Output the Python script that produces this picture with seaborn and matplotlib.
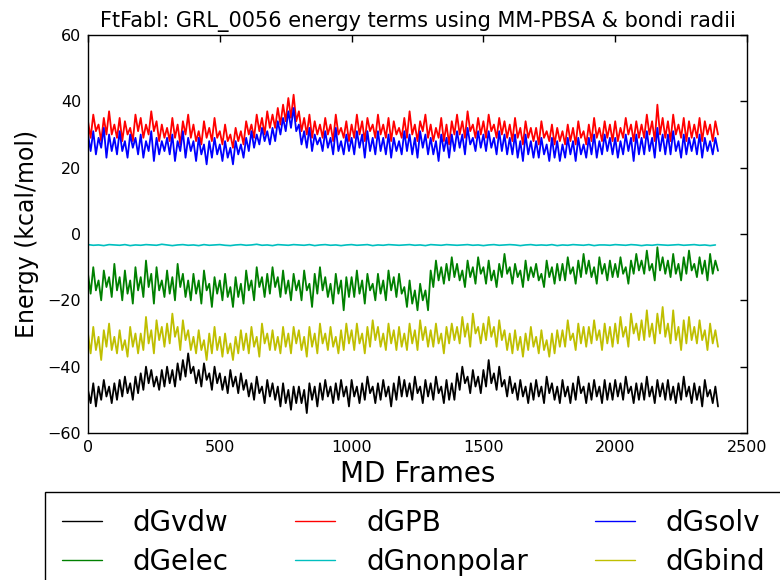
import numpy as np
import pandas as pd
import seaborn as sns
import matplotlib.pyplot as plt

# MD frame index, one sample read every 10 frames
frames = np.arange(0, 2400, 10)
# the nonpolar term is nearly flat, read every 20 frames
frames_np = np.arange(0, 2400, 20)

dGvdw = [-47, -51, -45, -52, -46, -50, -44, -49, -46, -51,
         -45, -50, -44, -49, -43, -48, -45, -50, -43, -48,
         -42, -47, -40, -45, -41, -46, -43, -47, -41, -46,
         -40, -45, -41, -46, -39, -44, -38, -43, -36, -42,
         -40, -45, -41, -46, -39, -44, -42, -47, -40, -45,
         -42, -47, -43, -48, -41, -46, -43, -48, -42, -47,
         -44, -49, -45, -50, -43, -48, -46, -51, -44, -49,
         -45, -50, -46, -52, -45, -51, -47, -53, -46, -51,
         -46, -51, -47, -54, -45, -50, -46, -52, -45, -50,
         -44, -49, -46, -51, -45, -50, -44, -49, -46, -52,
         -44, -49, -46, -51, -45, -50, -43, -48, -46, -51,
         -45, -50, -44, -49, -46, -52, -45, -50, -43, -49,
         -44, -49, -45, -50, -43, -48, -46, -51, -44, -49,
         -45, -50, -43, -48, -46, -51, -44, -50, -45, -50,
         -42, -47, -40, -45, -43, -48, -41, -46, -43, -48,
         -41, -46, -38, -45, -42, -47, -40, -46, -44, -49,
         -43, -48, -45, -50, -44, -49, -46, -51, -45, -50,
         -44, -49, -46, -51, -43, -48, -45, -50, -46, -51,
         -44, -49, -46, -51, -45, -50, -43, -48, -46, -51,
         -45, -50, -44, -49, -46, -51, -44, -50, -45, -50,
         -44, -49, -45, -50, -43, -48, -46, -51, -45, -50,
         -45, -50, -43, -49, -46, -51, -44, -49, -45, -50,
         -44, -50, -46, -51, -45, -50, -43, -49, -46, -51,
         -45, -50, -46, -52, -44, -49, -47, -51, -46, -52]

dGelec = [-12, -18, -10, -17, -14, -20, -11, -16, -13, -19,
          -9, -17, -13, -20, -11, -18, -14, -21, -10, -17,
          -13, -19, -8, -16, -12, -21, -10, -17, -14, -19,
          -11, -18, -13, -20, -9, -16, -12, -19, -14, -20,
          -12, -18, -14, -21, -11, -17, -15, -22, -13, -18,
          -14, -20, -12, -19, -16, -22, -13, -19, -15, -21,
          -11, -17, -14, -20, -10, -16, -13, -19, -12, -18,
          -10, -16, -13, -19, -11, -18, -14, -20, -12, -17,
          -14, -20, -11, -17, -15, -22, -12, -18, -10, -17,
          -13, -19, -15, -21, -12, -18, -14, -23, -13, -19,
          -13, -19, -11, -18, -14, -21, -12, -17, -15, -20,
          -12, -18, -14, -20, -11, -17, -13, -19, -12, -18,
          -16, -22, -14, -21, -17, -23, -15, -20, -17, -23,
          -11, -16, -8, -14, -10, -15, -9, -14, -7, -13,
          -9, -14, -11, -16, -8, -13, -10, -15, -7, -12,
          -10, -15, -8, -14, -11, -16, -9, -13, -6, -12,
          -10, -15, -9, -13, -11, -16, -8, -14, -10, -13,
          -9, -14, -12, -16, -8, -13, -10, -15, -9, -14,
          -9, -14, -7, -12, -10, -15, -8, -13, -6, -12,
          -8, -13, -10, -15, -7, -12, -9, -14, -8, -13,
          -9, -13, -7, -12, -10, -15, -8, -12, -6, -11,
          -8, -12, -5, -11, -9, -14, -4, -11, -7, -12,
          -8, -13, -6, -12, -9, -14, -7, -12, -5, -11,
          -9, -13, -7, -12, -8, -14, -6, -12, -8, -11]

dGPB = [34, 29, 36, 31, 33, 28, 35, 30, 37, 30,
        33, 29, 35, 28, 34, 30, 32, 28, 36, 31,
        35, 29, 33, 30, 37, 31, 34, 28, 33, 29,
        32, 28, 35, 29, 33, 27, 34, 30, 36, 29,
        33, 28, 31, 27, 34, 29, 32, 28, 35, 29,
        31, 27, 33, 28, 30, 26, 32, 28, 31, 27,
        34, 30, 33, 29, 36, 31, 35, 30, 37, 32,
        36, 32, 38, 33, 39, 34, 41, 35, 42, 34,
        37, 31, 35, 30, 36, 29, 34, 30, 33, 29,
        35, 30, 33, 28, 36, 30, 32, 29, 34, 28,
        33, 29, 36, 30, 34, 28, 35, 31, 33, 29,
        36, 30, 33, 29, 35, 28, 34, 30, 32, 29,
        35, 29, 37, 30, 33, 28, 34, 31, 36, 29,
        33, 28, 32, 29, 35, 28, 33, 27, 34, 30,
        36, 30, 34, 29, 37, 31, 33, 29, 35, 30,
        34, 29, 36, 31, 33, 29, 35, 30, 34, 29,
        33, 28, 35, 29, 32, 27, 34, 29, 32, 28,
        32, 27, 34, 29, 31, 28, 33, 27, 32, 28,
        31, 27, 33, 28, 32, 27, 34, 29, 31, 27,
        33, 28, 35, 29, 32, 28, 34, 29, 33, 28,
        34, 28, 32, 29, 35, 30, 33, 28, 34, 29,
        33, 29, 36, 30, 34, 28, 39, 30, 35, 29,
        34, 28, 36, 30, 33, 29, 35, 28, 34, 29,
        33, 29, 35, 28, 34, 30, 33, 28, 34, 30]

dGnonpolar = [-3.2, -3.4, -3.3, -3.5, -3.2, -3.3, -3.4, -3.2, -3.5, -3.3,
              -3.4, -3.2, -3.3, -3.4, -3.1, -3.3, -3.5, -3.3, -3.2, -3.4,
              -3.3, -3.5, -3.2, -3.4, -3.3, -3.2, -3.4, -3.5, -3.3, -3.2,
              -3.4, -3.3, -3.1, -3.4, -3.3, -3.5, -3.2, -3.3, -3.4, -3.2,
              -3.3, -3.4, -3.2, -3.5, -3.3, -3.2, -3.4, -3.3, -3.5, -3.3,
              -3.2, -3.4, -3.3, -3.2, -3.5, -3.3, -3.4, -3.2, -3.3, -3.4,
              -3.3, -3.2, -3.4, -3.3, -3.5, -3.2, -3.3, -3.4, -3.2, -3.3,
              -3.4, -3.3, -3.2, -3.4, -3.3, -3.5, -3.3, -3.2, -3.4, -3.3,
              -3.2, -3.3, -3.5, -3.3, -3.2, -3.4, -3.3, -3.4, -3.2, -3.5,
              -3.3, -3.4, -3.2, -3.3, -3.4, -3.2, -3.5, -3.3, -3.3, -3.4,
              -3.2, -3.3, -3.4, -3.2, -3.3, -3.5, -3.3, -3.4, -3.2, -3.3,
              -3.4, -3.3, -3.2, -3.4, -3.3, -3.2, -3.4, -3.3, -3.5, -3.3]

dGsolv = [30, 25, 31, 24, 29, 26, 32, 23, 30, 25,
          29, 24, 31, 25, 28, 23, 30, 26, 29, 24,
          30, 23, 28, 25, 31, 22, 29, 24, 28, 25,
          29, 24, 30, 22, 28, 25, 31, 23, 29, 25,
          28, 22, 29, 24, 27, 21, 28, 23, 29, 24,
          27, 22, 28, 23, 26, 21, 28, 24, 27, 23,
          29, 25, 31, 26, 30, 27, 32, 28, 31, 27,
          32, 28, 34, 30, 35, 31, 37, 32, 38, 31,
          33, 27, 31, 26, 32, 25, 30, 27, 29, 25,
          31, 26, 29, 24, 32, 25, 28, 24, 30, 25,
          29, 24, 31, 26, 30, 23, 31, 25, 29, 24,
          31, 25, 29, 24, 30, 23, 29, 25, 28, 24,
          31, 25, 30, 24, 29, 23, 31, 26, 30, 24,
          29, 24, 28, 22, 30, 25, 29, 23, 30, 25,
          31, 26, 30, 24, 32, 27, 29, 25, 31, 26,
          30, 25, 31, 26, 29, 24, 31, 25, 30, 24,
          29, 24, 30, 23, 28, 22, 30, 24, 28, 23,
          28, 23, 29, 24, 27, 22, 29, 23, 28, 22,
          27, 23, 29, 24, 28, 22, 29, 24, 27, 23,
          29, 24, 30, 23, 28, 24, 30, 25, 29, 24,
          29, 23, 28, 24, 30, 25, 29, 22, 30, 24,
          29, 24, 31, 25, 29, 23, 32, 25, 30, 24,
          30, 24, 31, 25, 28, 23, 30, 24, 29, 25,
          29, 24, 30, 23, 29, 25, 28, 24, 29, 25]

dGbind = [-30, -36, -28, -35, -31, -38, -29, -34, -27, -35,
          -31, -36, -29, -35, -32, -37, -28, -34, -30, -36,
          -30, -35, -25, -33, -29, -36, -26, -32, -28, -34,
          -27, -33, -24, -31, -28, -35, -26, -32, -29, -35,
          -31, -36, -29, -35, -32, -38, -30, -36, -28, -35,
          -31, -37, -30, -36, -33, -38, -31, -36, -29, -35,
          -30, -36, -28, -34, -31, -37, -27, -33, -30, -35,
          -29, -35, -31, -36, -28, -34, -30, -36, -28, -33,
          -29, -35, -31, -37, -28, -34, -30, -36, -27, -33,
          -30, -35, -28, -34, -31, -36, -29, -35, -27, -33,
          -29, -35, -27, -33, -30, -36, -28, -34, -26, -32,
          -28, -34, -30, -35, -27, -33, -29, -35, -28, -34,
          -30, -35, -27, -33, -29, -35, -26, -32, -28, -34,
          -29, -34, -27, -33, -30, -36, -28, -33, -27, -32,
          -28, -33, -25, -31, -27, -34, -24, -30, -28, -33,
          -27, -32, -25, -31, -28, -34, -26, -32, -29, -35,
          -30, -36, -29, -35, -31, -37, -30, -35, -28, -34,
          -31, -36, -29, -35, -32, -37, -30, -36, -29, -34,
          -29, -34, -26, -32, -30, -35, -27, -33, -28, -34,
          -28, -33, -26, -32, -29, -35, -27, -33, -28, -34,
          -27, -33, -25, -31, -28, -34, -24, -30, -27, -32,
          -26, -32, -23, -31, -27, -33, -24, -30, -22, -31,
          -27, -33, -23, -32, -28, -35, -26, -33, -25, -32,
          -28, -33, -26, -32, -29, -35, -27, -33, -29, -34]

terms = ['dGvdw', 'dGelec', 'dGPB', 'dGnonpolar', 'dGsolv', 'dGbind']
colors = ['black', (0, 0.5, 0), 'red', (0, 0.75, 0.75), 'blue', (0.75, 0.75, 0)]

df = pd.DataFrame({'frame': frames, 'dGvdw': dGvdw, 'dGelec': dGelec, 'dGPB': dGPB,
                   'dGsolv': dGsolv, 'dGbind': dGbind})
df_np = pd.DataFrame({'frame': frames_np, 'dGnonpolar': dGnonpolar})

sns.set_style('white')
plt.rcParams['font.family'] = ['DejaVu Sans']
plt.rcParams['text.color'] = 'black'
plt.rcParams['axes.labelcolor'] = 'black'

fig = plt.figure(figsize=(7.8, 5.8), dpi=100)
ax = fig.add_axes([88/780, 1-433/580, (747-88)/780, (433-35)/580])

for t, c in zip(terms, colors):
    d = df_np if t == 'dGnonpolar' else df
    lw = 1.2 if t == 'dGnonpolar' else 1.3
    sns.lineplot(data=d, x='frame', y=t, color=c, lw=lw, label=t, ax=ax, legend=False)

ax.set_xlim(0, 2500)
ax.set_ylim(-60, 60)
ax.set_xticks(range(0, 2501, 500))
ax.set_yticks(range(-60, 61, 20))
ax.tick_params(direction='in', top=True, right=True, length=5, width=1,
               labelsize=11.5, colors='black', pad=5)
for s in ax.spines.values():
    s.set_color('black')
    s.set_linewidth(1)

ax.set_title('FtFabI: GRL_0056 energy terms using MM-PBSA & bondi radii',
             fontsize=15, color='black')
ax.set_xlabel('MD Frames', fontsize=20, labelpad=4)
ax.set_ylabel('Energy (kcal/mol)', fontsize=17, labelpad=6)

handles = ax.get_lines()
leg = fig.legend(handles, terms, loc='upper left', bbox_to_anchor=(45/780, 1-492/580),
                 ncol=3, fontsize=20, handlelength=1.45, handletextpad=1.1,
                 columnspacing=2.4, labelspacing=0.4, borderpad=0.6, borderaxespad=0,
                 frameon=True, fancybox=False, edgecolor='black', framealpha=1)
for ln in leg.get_lines():
    ln.set_linewidth(1.0)

fig.savefig('out.png', dpi=100)
